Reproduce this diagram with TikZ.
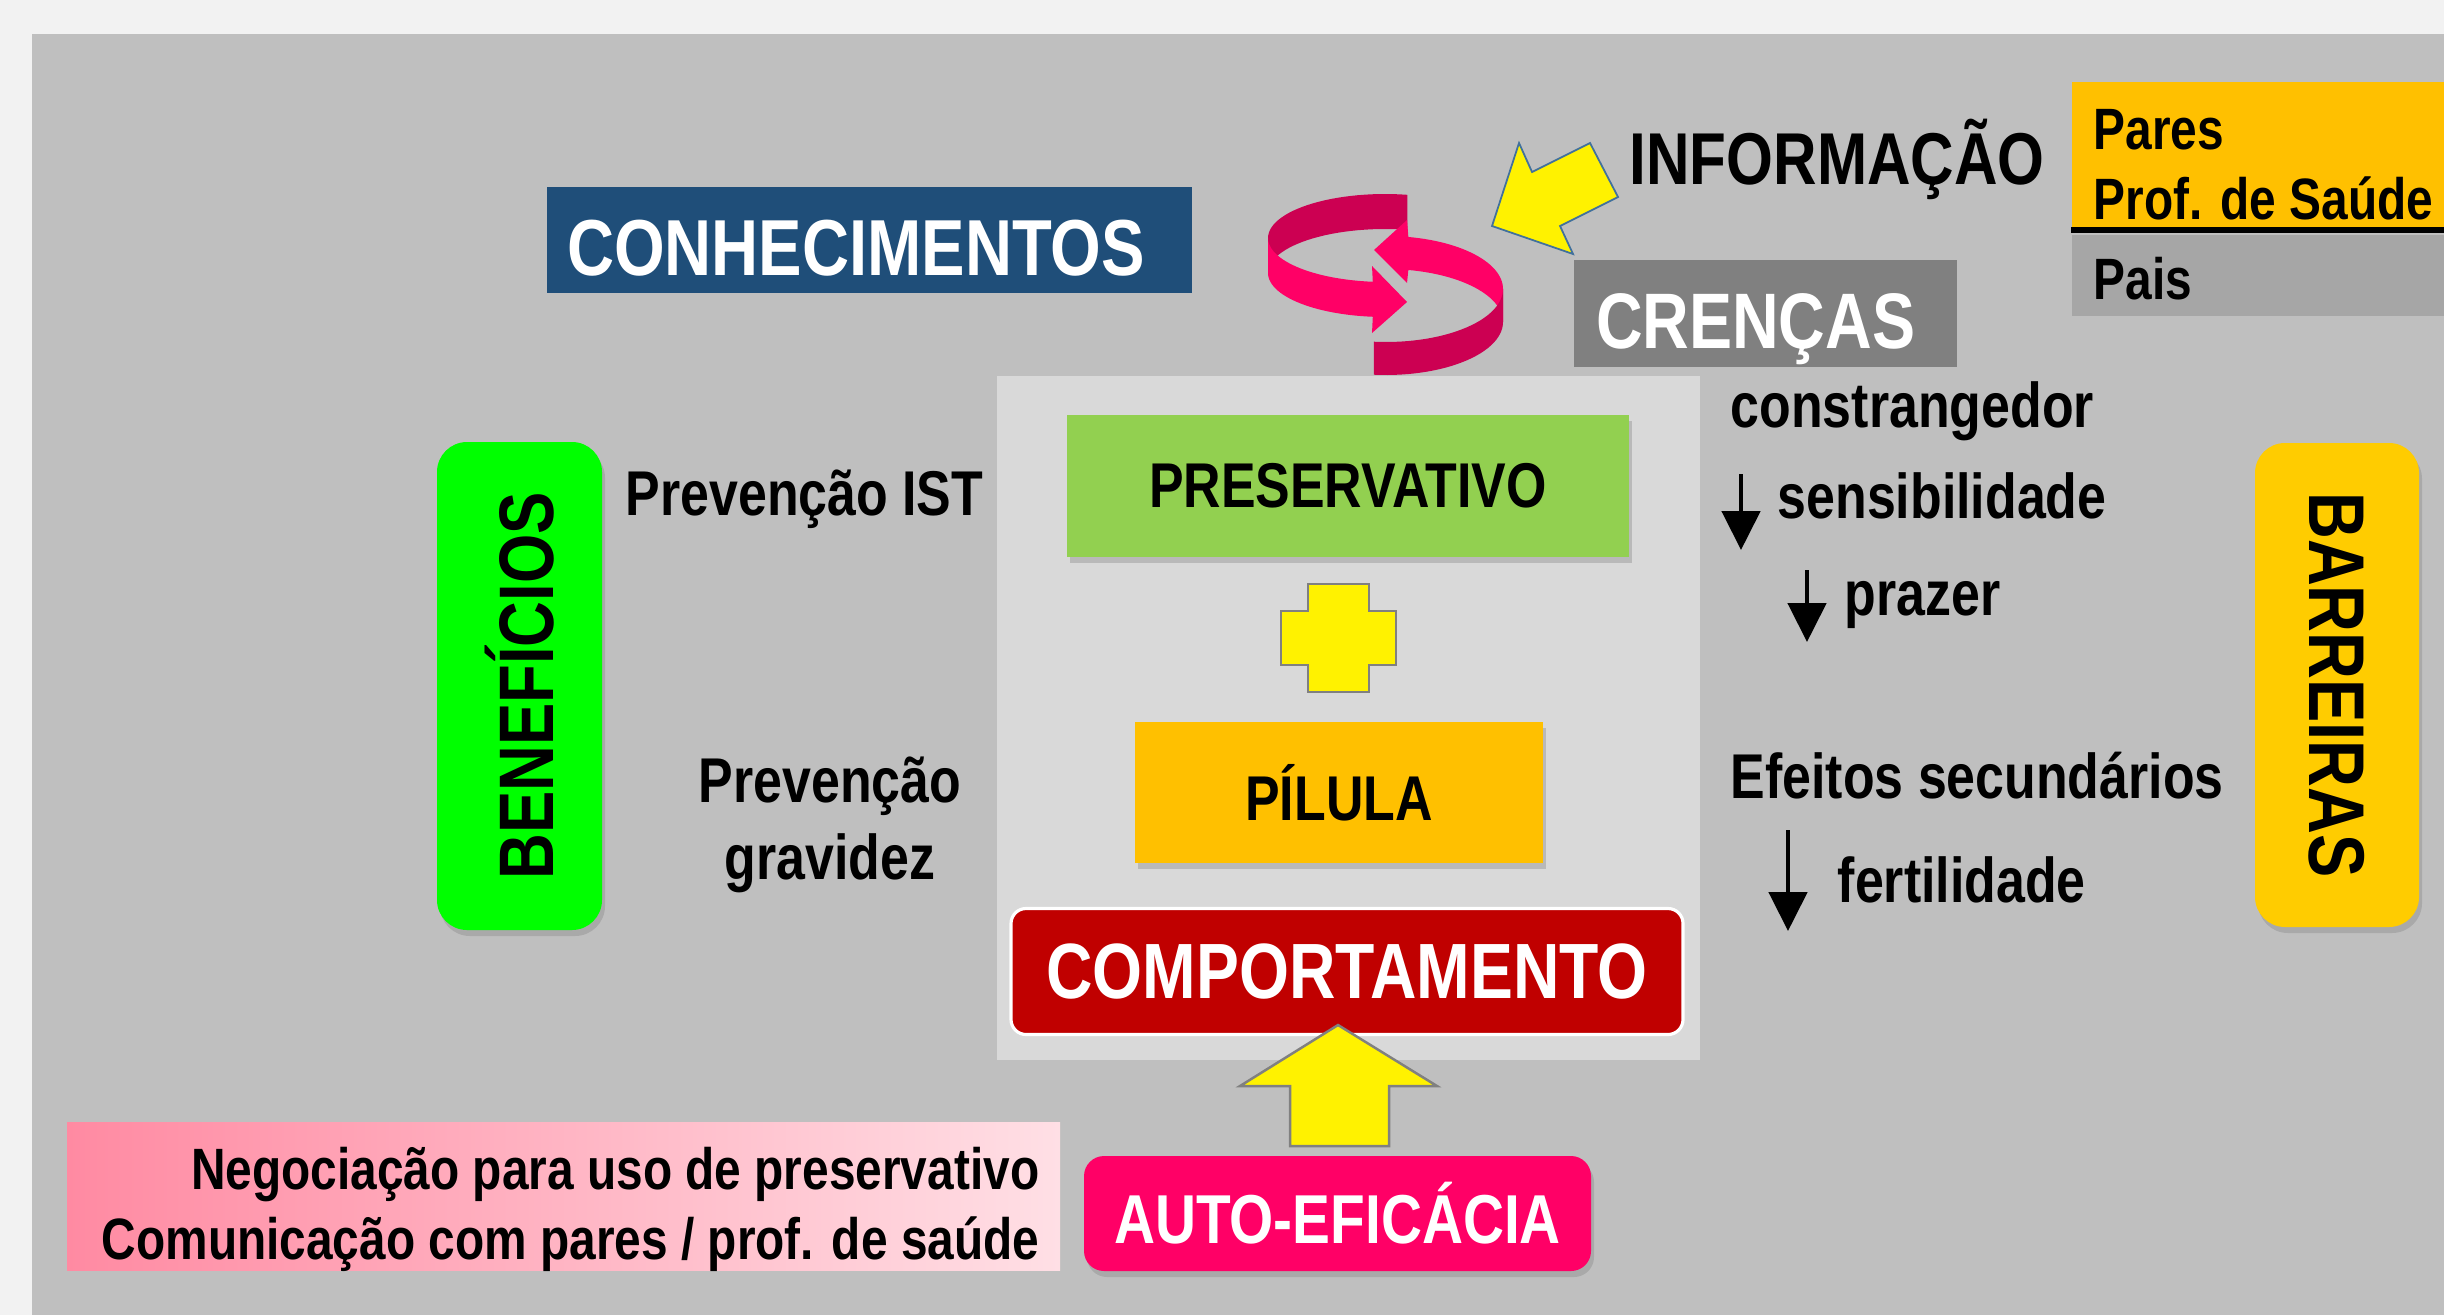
\documentclass[tikz,border=0pt]{standalone}
\usepackage{fontspec}
\setmainfont{Liberation Sans}[FakeStretch=0.82]
\usetikzlibrary{shadows,arrows.meta}

\definecolor{pagebg}{HTML}{F2F2F2}
\definecolor{slidebg}{HTML}{BFBFBF}
\definecolor{panelbg}{HTML}{D9D9D9}
\definecolor{conhblue}{HTML}{1F4E79}
\definecolor{crengray}{HTML}{808080}
\definecolor{paresor}{HTML}{FFC000}
\definecolor{paisgray}{HTML}{A6A6A6}
\definecolor{presgreen}{HTML}{92D050}
\definecolor{compred}{HTML}{C00000}
\definecolor{benegreen}{HTML}{00FF00}
\definecolor{barryel}{HTML}{FFCC00}
\definecolor{ringbright}{HTML}{FF0066}
\definecolor{ringdark}{HTML}{CC0052}
\definecolor{infoedge}{HTML}{41719C}
\definecolor{pinkl}{HTML}{FF8AA2}
\definecolor{pinkr}{HTML}{FFDFE5}

\newcommand{\fsz}[1]{\fontsize{#1}{#1}\selectfont\bfseries}

\tikzset{
  box/.style={inner sep=0pt, font=\fsz{18pt}},
  shade box/.style={drop shadow={shadow xshift=0.3mm, shadow yshift=-0.6mm, opacity=0.35}},
  txt/.style={inner sep=0pt, font=\fsz{18pt}},
  dnarrow/.style={line width=1.4pt, -{Triangle[length=3.9mm, width=3.8mm]}},
  blockyellow/.style={fill=yellow, draw=crengray, line width=0.7pt},
}

\begin{document}
\begin{tikzpicture}[x=0.1mm, y=-0.1mm]
	\useasboundingbox (0,0) rectangle (2444,1315);
	% background
	\fill[pagebg] (0,0) rectangle (2444,1315);
	\fill[slidebg] (32,34) rectangle (2444,1315);
	\fill[panelbg] (997,376) rectangle (1700,1060);
	% top boxes
	\node[box, fill=conhblue, text=white, font=\fsz{22.6pt}, minimum height=10.6mm, inner xsep=2mm, text width=60.5mm, align=left, text height=20.2pt, text depth=0pt] (conh) at (869.5,240) {CONHECIMENTOS};
	\node[box, fill=crengray, text=white, font=\fsz{22.4pt}, minimum height=10.7mm, inner xsep=2.2mm, text width=33.9mm, align=left, text height=20pt, text depth=0pt] (cren) at (1765.5,313.5) {CRENÇAS};
	\node[box, fill=paresor, minimum width=37.2mm, minimum height=14.7mm] (paresbox) at (2258,155.5) {};
	\node[box, fill=paisgray, minimum width=37.2mm, minimum height=8.1mm] (paisbox) at (2258,275.5) {};
	\draw[line width=1.7pt] (paresbox.south west) -- (paresbox.south east);
	\node[txt, anchor=base west, font=\fsz{20.9pt}] (info) at (1629,184) {INFORMAÇÃO};
	\node[txt, anchor=base west, font=\fsz{16.6pt}] (pares) at (2093,149) {Pares};
	\node[txt, anchor=base west, font=\fsz{16.6pt}] (prof) at (2093,219) {Prof. de Saúde};
	\node[txt, anchor=base west, font=\fsz{16.6pt}] (pais) at (2093,299) {Pais};
	% info arrow
	\coordinate (infotip) at (1492,226);
	\filldraw[fill=yellow, draw=infoedge, line width=0.5pt] (infotip) -- (1519,143) -- (1532,172) -- (1590,143) -- (1618,197) -- (1560,226) -- (1573,254) -- cycle;
	% cycle arrow
	\fill[ringdark] plot[domain=79:180, samples=30] ({1385+117*cos(\x)},{238-44*sin(\x)}) -- plot[domain=180:79, samples=30] ({1385+117*cos(\x)},{273-44*sin(\x)}) -- cycle;
	\fill[ringbright] plot[domain=0:79, samples=30] ({1386+117*cos(\x)},{289-53*sin(\x)}) -- (1407,220) -- (1374,250) -- (1407,283) -- plot[domain=79:0, samples=30] ({1386+117*cos(\x)},{322-53*sin(\x)}) -- cycle;
	\fill[ringbright] plot[domain=180:264, samples=30] ({1385+117*cos(\x)},{238-44*sin(\x)}) -- (1372,266) -- (1407,302) -- (1372,333) -- plot[domain=264:180, samples=30] ({1385+117*cos(\x)},{273-44*sin(\x)}) -- cycle;
	\fill[ringdark] plot[domain=264:360, samples=30] ({1386+117*cos(\x)},{289-53*sin(\x)}) -- plot[domain=360:264, samples=30] ({1386+117*cos(\x)},{322-53*sin(\x)}) -- cycle;
	% behaviour
	\node[box, fill=presgreen, shade box, minimum width=56.2mm, minimum height=14.2mm] (pres) at (1348,486) {PRESERVATIVO};
	\draw[blockyellow] (1308,584) -- (1369,584) -- (1369,611) -- (1396,611) -- (1396,665) -- (1369,665) -- (1369,692) -- (1308,692) -- (1308,665) -- (1281,665) -- (1281,611) -- (1308,611) -- cycle;
	\node[box, fill=paresor, shade box, minimum width=40.8mm, minimum height=14.1mm] (pil) at (1339,792.5) {PÍLULA};
	\node[box, fill=compred, draw=white, line width=0.9pt, rounded corners=1.5mm, text=white, font=\fsz{22.3pt}, minimum width=67.2mm, minimum height=12.6mm] (comp) at (1347,971.5) {COMPORTAMENTO};
	\node[box, fill=ringbright, shade box, rounded corners=2mm, text=white, font=\fsz{19.7pt}, minimum width=50.7mm, minimum height=11.5mm] (auto) at (1337.5,1213.5) {AUTO-EFICÁCIA};
	\draw[blockyellow] (1338,1025) -- (1437,1086) -- (1389,1086) -- (1389,1146) -- (1290,1146) -- (1290,1086) -- (1240,1086) -- cycle;
	% benefits
	\node[box, fill=benegreen, shade box, rounded corners=3mm, rotate=90, font=\fsz{22pt}, minimum width=48.8mm, minimum height=16.5mm] (benef) at (519.5,686) {BENEFÍCIOS};
	\node[txt, anchor=base west] (ist) at (625,515) {Prevenção IST};
	\node[txt, anchor=base] (prev) at (830,802) {Prevenção};
	\node[txt, anchor=base] (grav) at (830,879) {gravidez};
	% barriers
	\node[box, fill=barryel, shade box, rounded corners=3mm, rotate=-90, font=\fsz{22.5pt}, minimum width=48.4mm, minimum height=16.4mm] (barr) at (2337,685) {BARREIRAS};
	\node[txt, anchor=base west] (constr) at (1730,427) {constrangedor};
	\node[txt, anchor=base west] (sens) at (1777,518) {sensibilidade};
	\node[txt, anchor=base west] (praz) at (1844,615) {prazer};
	\node[txt, anchor=base west] (efe) at (1730,798) {Efeitos secundários};
	\node[txt, anchor=base west] (fert) at (1837,902) {fertilidade};
	\coordinate (a1s) at (1741,474); \coordinate (a1e) at (1741,550);
	\coordinate (a2s) at (1807,570); \coordinate (a2e) at (1807,642);
	\coordinate (a3s) at (1788,830); \coordinate (a3e) at (1788,931);
	\draw[dnarrow] (a1s) -- (a1e);
	\draw[dnarrow] (a2s) -- (a2e);
	\draw[dnarrow] (a3s) -- (a3e);
	% self-efficacy skills
	\node[inner sep=0pt, left color=pinkl, right color=pinkr, minimum width=99.3mm, minimum height=14.8mm] (pink) at (563.5,1196) {};
	\node[txt, anchor=base east, font=\fsz{16.6pt}] (neg) at (1040,1189) {Negociação para uso de preservativo};
	\node[txt, anchor=base east, font=\fsz{16.6pt}] (comm) at (1040,1259) {Comunicação com pares / prof. de saúde};
\end{tikzpicture}
\end{document}
